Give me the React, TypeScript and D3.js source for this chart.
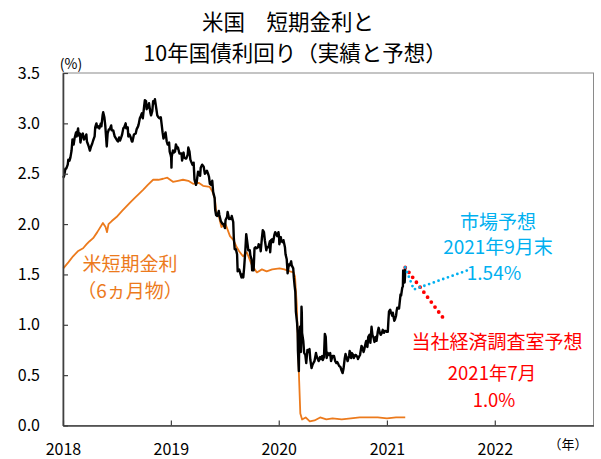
import * as d3 from "d3";
import { useEffect, useRef } from "react";

type Pt = [string, number];

// US 10y treasury yield (%)
const treasury10y: Pt[] = [
  ["2018-01-02", 2.46], ["2018-01-05", 2.48], ["2018-01-09", 2.55], ["2018-01-12", 2.55],
  ["2018-01-17", 2.59], ["2018-01-19", 2.64], ["2018-01-23", 2.63], ["2018-01-26", 2.66],
  ["2018-01-30", 2.73], ["2018-02-02", 2.84], ["2018-02-06", 2.79], ["2018-02-09", 2.85],
  ["2018-02-14", 2.91], ["2018-02-16", 2.87], ["2018-02-21", 2.95], ["2018-02-23", 2.88],
  ["2018-02-27", 2.90], ["2018-03-01", 2.81], ["2018-03-05", 2.88], ["2018-03-09", 2.90],
  ["2018-03-13", 2.84], ["2018-03-16", 2.85], ["2018-03-21", 2.89], ["2018-03-23", 2.82],
  ["2018-03-28", 2.78], ["2018-04-02", 2.73], ["2018-04-06", 2.77], ["2018-04-10", 2.80],
  ["2018-04-13", 2.83], ["2018-04-18", 2.87], ["2018-04-20", 2.96], ["2018-04-24", 3.00],
  ["2018-04-27", 2.96], ["2018-05-01", 2.97], ["2018-05-04", 2.95], ["2018-05-09", 3.00],
  ["2018-05-11", 2.97], ["2018-05-15", 3.08], ["2018-05-17", 3.11], ["2018-05-21", 3.06],
  ["2018-05-24", 2.98], ["2018-05-29", 2.77], ["2018-06-01", 2.90], ["2018-06-05", 2.94],
  ["2018-06-08", 2.94], ["2018-06-13", 2.98], ["2018-06-15", 2.93], ["2018-06-20", 2.93],
  ["2018-06-25", 2.87], ["2018-06-29", 2.85], ["2018-07-03", 2.83], ["2018-07-06", 2.82],
  ["2018-07-10", 2.86], ["2018-07-13", 2.83], ["2018-07-18", 2.87], ["2018-07-20", 2.89],
  ["2018-07-24", 2.95], ["2018-07-27", 2.96], ["2018-08-01", 3.00], ["2018-08-03", 2.95],
  ["2018-08-08", 2.96], ["2018-08-10", 2.87], ["2018-08-14", 2.89], ["2018-08-17", 2.87],
  ["2018-08-22", 2.82], ["2018-08-24", 2.82], ["2018-08-29", 2.89], ["2018-09-04", 2.90],
  ["2018-09-07", 2.94], ["2018-09-12", 2.97], ["2018-09-14", 2.99], ["2018-09-18", 3.05],
  ["2018-09-21", 3.07], ["2018-09-25", 3.10], ["2018-09-28", 3.05], ["2018-10-03", 3.18],
  ["2018-10-05", 3.23], ["2018-10-09", 3.22], ["2018-10-11", 3.14], ["2018-10-15", 3.16],
  ["2018-10-19", 3.20], ["2018-10-24", 3.10], ["2018-10-26", 3.08], ["2018-10-30", 3.12],
  ["2018-11-02", 3.22], ["2018-11-05", 3.20], ["2018-11-08", 3.24], ["2018-11-13", 3.14],
  ["2018-11-16", 3.08], ["2018-11-20", 3.06], ["2018-11-23", 3.05], ["2018-11-28", 3.06],
  ["2018-11-30", 3.01], ["2018-12-04", 2.91], ["2018-12-07", 2.85], ["2018-12-11", 2.88],
  ["2018-12-14", 2.91], ["2018-12-18", 2.82], ["2018-12-21", 2.79], ["2018-12-26", 2.81],
  ["2018-12-28", 2.72], ["2018-12-31", 2.69],
  ["2019-01-02", 2.66], ["2019-01-03", 2.56], ["2019-01-04", 2.67], ["2019-01-08", 2.73],
  ["2019-01-11", 2.71], ["2019-01-15", 2.72], ["2019-01-18", 2.79], ["2019-01-23", 2.75],
  ["2019-01-25", 2.76], ["2019-01-30", 2.70], ["2019-02-01", 2.70], ["2019-02-06", 2.70],
  ["2019-02-08", 2.63], ["2019-02-13", 2.71], ["2019-02-15", 2.66], ["2019-02-20", 2.65],
  ["2019-02-22", 2.65], ["2019-02-27", 2.69], ["2019-03-01", 2.76], ["2019-03-05", 2.72],
  ["2019-03-08", 2.64], ["2019-03-12", 2.61], ["2019-03-15", 2.59], ["2019-03-19", 2.61],
  ["2019-03-22", 2.44], ["2019-03-27", 2.39], ["2019-03-29", 2.41], ["2019-04-03", 2.52],
  ["2019-04-05", 2.50], ["2019-04-10", 2.48], ["2019-04-12", 2.56], ["2019-04-17", 2.59],
  ["2019-04-22", 2.57], ["2019-04-26", 2.50], ["2019-05-01", 2.52], ["2019-05-03", 2.53],
  ["2019-05-08", 2.49], ["2019-05-10", 2.47], ["2019-05-13", 2.40], ["2019-05-17", 2.39],
  ["2019-05-21", 2.43], ["2019-05-24", 2.32], ["2019-05-29", 2.26], ["2019-05-31", 2.14],
  ["2019-06-03", 2.09], ["2019-06-07", 2.08], ["2019-06-12", 2.13], ["2019-06-14", 2.09],
  ["2019-06-19", 2.03], ["2019-06-25", 2.00], ["2019-06-28", 2.00], ["2019-07-03", 1.96],
  ["2019-07-05", 2.04], ["2019-07-10", 2.07], ["2019-07-12", 2.12], ["2019-07-17", 2.05],
  ["2019-07-19", 2.06], ["2019-07-24", 2.05], ["2019-07-26", 2.08], ["2019-07-31", 2.02],
  ["2019-08-02", 1.86], ["2019-08-05", 1.75], ["2019-08-09", 1.75], ["2019-08-13", 1.70],
  ["2019-08-15", 1.53], ["2019-08-20", 1.55], ["2019-08-23", 1.52], ["2019-08-28", 1.47],
  ["2019-08-30", 1.50], ["2019-09-03", 1.47], ["2019-09-06", 1.57], ["2019-09-10", 1.74],
  ["2019-09-13", 1.90], ["2019-09-17", 1.81], ["2019-09-20", 1.74], ["2019-09-25", 1.74],
  ["2019-09-27", 1.69], ["2019-10-01", 1.65], ["2019-10-03", 1.54], ["2019-10-08", 1.54],
  ["2019-10-11", 1.76], ["2019-10-15", 1.77], ["2019-10-18", 1.76], ["2019-10-23", 1.77],
  ["2019-10-25", 1.80], ["2019-10-30", 1.78], ["2019-11-01", 1.73], ["2019-11-05", 1.86],
  ["2019-11-08", 1.94], ["2019-11-12", 1.92], ["2019-11-15", 1.84], ["2019-11-20", 1.74],
  ["2019-11-22", 1.77], ["2019-11-27", 1.77], ["2019-12-02", 1.83], ["2019-12-03", 1.72],
  ["2019-12-06", 1.84], ["2019-12-10", 1.85], ["2019-12-13", 1.82], ["2019-12-17", 1.89],
  ["2019-12-20", 1.92], ["2019-12-24", 1.90], ["2019-12-27", 1.88], ["2019-12-31", 1.92],
  ["2020-01-02", 1.88], ["2020-01-03", 1.80], ["2020-01-08", 1.87], ["2020-01-10", 1.83],
  ["2020-01-14", 1.82], ["2020-01-17", 1.84], ["2020-01-22", 1.77], ["2020-01-24", 1.70],
  ["2020-01-28", 1.65], ["2020-01-31", 1.51], ["2020-02-04", 1.60], ["2020-02-07", 1.59],
  ["2020-02-12", 1.63], ["2020-02-14", 1.59], ["2020-02-19", 1.56], ["2020-02-21", 1.47],
  ["2020-02-24", 1.38], ["2020-02-26", 1.33], ["2020-02-28", 1.13], ["2020-03-03", 1.02],
  ["2020-03-05", 0.92], ["2020-03-06", 0.74], ["2020-03-09", 0.54], ["2020-03-10", 0.76],
  ["2020-03-12", 0.88], ["2020-03-13", 0.98], ["2020-03-16", 0.73], ["2020-03-18", 1.18],
  ["2020-03-19", 1.12], ["2020-03-20", 0.92], ["2020-03-24", 0.84], ["2020-03-27", 0.72],
  ["2020-03-31", 0.70], ["2020-04-03", 0.62], ["2020-04-07", 0.75], ["2020-04-09", 0.73],
  ["2020-04-14", 0.76], ["2020-04-17", 0.65], ["2020-04-21", 0.57], ["2020-04-24", 0.60],
  ["2020-04-29", 0.63], ["2020-05-01", 0.64], ["2020-05-06", 0.72], ["2020-05-08", 0.69],
  ["2020-05-12", 0.66], ["2020-05-15", 0.64], ["2020-05-20", 0.68], ["2020-05-22", 0.66],
  ["2020-05-27", 0.69], ["2020-05-29", 0.65], ["2020-06-02", 0.68], ["2020-06-05", 0.91],
  ["2020-06-08", 0.88], ["2020-06-11", 0.67], ["2020-06-15", 0.72], ["2020-06-19", 0.70],
  ["2020-06-23", 0.72], ["2020-06-26", 0.64], ["2020-07-01", 0.69], ["2020-07-06", 0.69],
  ["2020-07-10", 0.64], ["2020-07-14", 0.62], ["2020-07-17", 0.63], ["2020-07-22", 0.60],
  ["2020-07-24", 0.59], ["2020-07-28", 0.58], ["2020-07-31", 0.55], ["2020-08-04", 0.52],
  ["2020-08-07", 0.56], ["2020-08-11", 0.66], ["2020-08-14", 0.71], ["2020-08-18", 0.67],
  ["2020-08-21", 0.64], ["2020-08-26", 0.69], ["2020-08-28", 0.74], ["2020-09-02", 0.67],
  ["2020-09-04", 0.72], ["2020-09-09", 0.70], ["2020-09-11", 0.67], ["2020-09-16", 0.70],
  ["2020-09-18", 0.70], ["2020-09-23", 0.68], ["2020-09-25", 0.66], ["2020-09-30", 0.69],
  ["2020-10-02", 0.70], ["2020-10-07", 0.79], ["2020-10-09", 0.78], ["2020-10-14", 0.73],
  ["2020-10-16", 0.75], ["2020-10-21", 0.82], ["2020-10-23", 0.84], ["2020-10-27", 0.78],
  ["2020-10-30", 0.88], ["2020-11-03", 0.90], ["2020-11-06", 0.82], ["2020-11-10", 0.98],
  ["2020-11-13", 0.90], ["2020-11-17", 0.87], ["2020-11-20", 0.83], ["2020-11-24", 0.88],
  ["2020-11-27", 0.84], ["2020-12-01", 0.93], ["2020-12-04", 0.97], ["2020-12-08", 0.92],
  ["2020-12-11", 0.90], ["2020-12-15", 0.92], ["2020-12-18", 0.95], ["2020-12-22", 0.92],
  ["2020-12-24", 0.94], ["2020-12-29", 0.94], ["2020-12-31", 0.93],
  ["2021-01-04", 0.93], ["2021-01-06", 1.04], ["2021-01-08", 1.13], ["2021-01-12", 1.15],
  ["2021-01-14", 1.13], ["2021-01-19", 1.09], ["2021-01-21", 1.12], ["2021-01-26", 1.04],
  ["2021-01-28", 1.05], ["2021-02-01", 1.09], ["2021-02-03", 1.14], ["2021-02-05", 1.17],
  ["2021-02-09", 1.16], ["2021-02-11", 1.16], ["2021-02-16", 1.30], ["2021-02-18", 1.29],
  ["2021-02-22", 1.37], ["2021-02-24", 1.38], ["2021-02-25", 1.54], ["2021-02-26", 1.44],
  ["2021-03-01", 1.45], ["2021-03-02", 1.42], ["2021-03-03", 1.47], ["2021-03-04", 1.57],
];

// US 6-month bill rate (%)
const bill6m: Pt[] = [
  ["2018-01-02", 1.56], ["2018-01-19", 1.62], ["2018-02-04", 1.68], ["2018-02-20", 1.73],
  ["2018-03-10", 1.76], ["2018-03-22", 1.80], ["2018-04-01", 1.83], ["2018-04-13", 1.86],
  ["2018-04-27", 1.92], ["2018-05-16", 2.01], ["2018-05-25", 1.97], ["2018-05-30", 1.92],
  ["2018-06-04", 2.00], ["2018-06-15", 2.03], ["2018-07-01", 2.07], ["2018-07-20", 2.13],
  ["2018-08-15", 2.21], ["2018-09-01", 2.26], ["2018-09-15", 2.30], ["2018-09-29", 2.34],
  ["2018-10-15", 2.39], ["2018-11-02", 2.44], ["2018-11-20", 2.44], ["2018-12-06", 2.45],
  ["2018-12-20", 2.46], ["2019-01-08", 2.42], ["2019-01-25", 2.43], ["2019-02-11", 2.44],
  ["2019-03-01", 2.43], ["2019-03-17", 2.40], ["2019-04-05", 2.41], ["2019-04-20", 2.38],
  ["2019-05-12", 2.37], ["2019-05-22", 2.32], ["2019-05-30", 2.25], ["2019-06-04", 2.11],
  ["2019-06-12", 2.08], ["2019-06-21", 1.97], ["2019-07-05", 2.00], ["2019-07-20", 1.88],
  ["2019-08-01", 1.84], ["2019-08-10", 1.78], ["2019-08-20", 1.73], ["2019-09-02", 1.68],
  ["2019-09-15", 1.72], ["2019-10-01", 1.60], ["2019-10-19", 1.52], ["2019-11-05", 1.55],
  ["2019-11-21", 1.53], ["2019-12-10", 1.55], ["2020-01-04", 1.56], ["2020-01-20", 1.55],
  ["2020-02-08", 1.53], ["2020-02-20", 1.52], ["2020-02-25", 1.48], ["2020-03-02", 1.20],
  ["2020-03-06", 0.80], ["2020-03-10", 0.45], ["2020-03-14", 0.12], ["2020-03-20", 0.06],
  ["2020-04-01", 0.08], ["2020-04-15", 0.04], ["2020-05-01", 0.05], ["2020-05-20", 0.08],
  ["2020-06-10", 0.06], ["2020-07-01", 0.07], ["2020-08-01", 0.06], ["2020-09-01", 0.07],
  ["2020-10-01", 0.08], ["2020-11-01", 0.08], ["2020-12-01", 0.08], ["2021-01-01", 0.07],
  ["2021-02-01", 0.08], ["2021-03-04", 0.08],
];

// forecasts: market (end Sep 2021, 1.54%) and in-house (Jul 2021, 1.0%)
const marketForecast: Pt[] = [["2021-03-04", 1.57], ["2021-04-02", 1.35], ["2021-09-30", 1.54]];
const inhouseForecast: Pt[] = [["2021-03-04", 1.57], ["2021-07-15", 1.05]];

const yTicks = [0, 0.5, 1.0, 1.5, 2.0, 2.5, 3.0, 3.5];
const xYears = ["2018", "2019", "2020", "2021", "2022"];

const titleLines = ["米国\u3000短期金利と", "10年国債利回り（実績と予想）"];

const W = 601;
const H = 459;
const FONT = '"Noto Sans CJK JP", "Noto Sans", sans-serif';
const ORANGE = "#EC7A1C";
const BLUE = "#00B0F0";
const RED = "#FF0000";

export default function App() {
  const ref = useRef<SVGSVGElement | null>(null);

  useEffect(() => {
    const el = ref.current;
    if (!el) return;
    const svg = d3.select(el);
    svg.selectAll("*").remove();

    const left = 63;
    const right = 593.5;
    const top = 73;
    const bottom = 425.5;

    const parse = d3.utcParse("%Y-%m-%d");
    const x = d3
      .scaleUtc()
      .domain([parse("2018-01-01")!, parse("2022-12-01")!])
      .range([left, right]);
    const y = d3.scaleLinear().domain([0, 3.5]).range([bottom, top]);

    svg.append("rect").attr("width", W).attr("height", H).attr("fill", "#fff");

    // frame
    svg
      .append("rect")
      .attr("x", left)
      .attr("y", top)
      .attr("width", right - left)
      .attr("height", bottom - top)
      .attr("fill", "none")
      .attr("stroke", "#8a8a8a")
      .attr("stroke-width", 1);

    const line = d3
      .line<Pt>()
      .x((d) => x(parse(d[0])!))
      .y((d) => y(d[1]));

    svg
      .append("path")
      .datum(bill6m)
      .attr("fill", "none")
      .attr("stroke", ORANGE)
      .attr("stroke-width", 1.8)
      .attr("stroke-linejoin", "round")
      .attr("d", line);

    svg
      .append("path")
      .datum(treasury10y)
      .attr("fill", "none")
      .attr("stroke", "#000")
      .attr("stroke-width", 2.4)
      .attr("stroke-linejoin", "round")
      .attr("d", line);

    svg
      .append("path")
      .datum(inhouseForecast)
      .attr("fill", "none")
      .attr("stroke", RED)
      .attr("stroke-width", 3.8)
      .attr("stroke-linecap", "round")
      .attr("stroke-dasharray", "0 6.2")
      .attr("d", line);

    svg
      .append("path")
      .datum(marketForecast)
      .attr("fill", "none")
      .attr("stroke", BLUE)
      .attr("stroke-width", 2.8)
      .attr("stroke-linecap", "round")
      .attr("stroke-dasharray", "0 5")
      .attr("d", line);

    // axes
    const yAxis = svg
      .append("g")
      .attr("transform", `translate(${left},0)`)
      .call(
        d3
          .axisLeft(y)
          .tickValues(yTicks)
          .tickSizeInner(-5)
          .tickSizeOuter(0)
          .tickPadding(23)
          .tickFormat(d3.format(".1f") as (v: d3.NumberValue) => string),
      );
    yAxis.select(".domain").attr("stroke", "#404040").attr("stroke-width", 1.6);
    yAxis.selectAll(".tick line").attr("stroke", "#404040").attr("stroke-width", 1.2);
    yAxis
      .selectAll(".tick text")
      .attr("fill", "#000")
      .attr("font-size", 16)
      .attr("font-family", FONT);

    const xAxis = svg
      .append("g")
      .attr("transform", `translate(0,${bottom})`)
      .call(
        d3
          .axisBottom(x)
          .tickValues(xYears.map((yr) => parse(`${yr}-01-01`)!))
          .tickSizeInner(-5)
          .tickSizeOuter(0)
          .tickPadding(18)
          .tickFormat(d3.utcFormat("%Y") as (v: Date | d3.NumberValue) => string),
      );
    xAxis.select(".domain").attr("stroke", "#404040").attr("stroke-width", 1.6);
    xAxis.selectAll(".tick line").attr("stroke", "#404040").attr("stroke-width", 1.2);
    xAxis
      .selectAll(".tick text")
      .attr("fill", "#000")
      .attr("font-size", 16)
      .attr("font-family", FONT);

    const txt = (
      tx: number,
      ty: number,
      s: string,
      size: number,
      fill: string,
      anchor = "middle",
    ) =>
      svg
        .append("text")
        .attr("x", tx)
        .attr("y", ty)
        .attr("text-anchor", anchor)
        .attr("font-family", FONT)
        .attr("font-size", size)
        .attr("fill", fill)
        .text(s);

    // title
    txt(288, 30, titleLines[0], 21.5, "#000");
    txt(295, 61, titleLines[1], 21.5, "#000");

    // unit labels
    txt(71, 69, "(%)", 14, "#000");
    txt(568, 449, "（年）", 13, "#000");

    // series labels
    txt(130, 271, "米短期金利", 19, ORANGE);
    txt(130, 298, "（6ヵ月物）", 19, ORANGE);

    txt(498, 229, "市場予想", 19, BLUE);
    txt(498, 254, "2021年9月末", 19, BLUE);
    txt(494, 280, "1.54%", 19, BLUE);

    txt(497, 349, "当社経済調査室予想", 19, RED);
    txt(492, 380, "2021年7月", 18.5, RED);
    txt(494, 407, "1.0%", 18.5, RED);
  }, []);

  return (
    <svg
      ref={ref}
      width={W}
      height={H}
      viewBox={`0 0 ${W} ${H}`}
      style={{ position: "absolute", left: 0, top: 0, display: "block" }}
    />
  );
}
